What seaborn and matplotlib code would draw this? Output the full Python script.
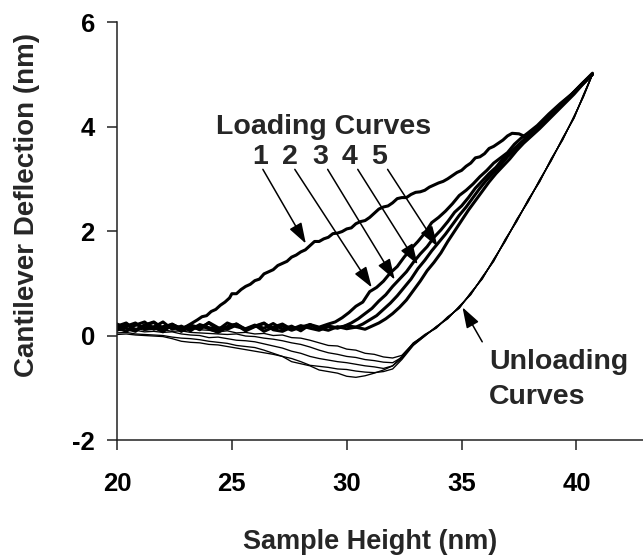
import matplotlib
matplotlib.use("Agg")
import matplotlib.pyplot as plt
import seaborn as sns

# ---------------- data: cantilever deflection (nm) vs sample height (nm) ----------------
# Loading curves (approach), five successive cycles
load1_x = [20.0, 20.4, 20.8, 21.2, 21.6, 22.0, 22.4, 22.8, 23.2,
           23.5, 23.7, 23.9, 24.1, 24.3, 24.5, 24.7, 24.9, 25.0,
           25.2, 25.4, 25.6, 25.8, 26.0, 26.2, 26.4, 26.6, 26.8, 27.0,
           27.2, 27.4, 27.6, 27.8, 28.0, 28.2, 28.4, 28.6, 28.8, 29.0,
           29.2, 29.4, 29.6, 29.8, 30.0, 30.2, 30.4, 30.6, 30.8, 31.0,
           31.2, 31.4, 31.6, 31.8, 32.0, 32.2, 32.4, 32.6, 32.8, 33.0,
           33.2, 33.4, 33.6, 33.8, 34.0, 34.2, 34.4, 34.6, 34.8, 35.0,
           35.2, 35.4, 35.6, 35.8, 36.0, 36.2, 36.4, 36.6, 36.8, 37.0, 37.2,
           37.5, 37.7, 37.8, 38.0, 38.2, 38.6, 39.0, 39.4, 39.8, 40.2, 40.7]
load1_y = [0.18, 0.24, 0.10, 0.20, 0.26, 0.14, 0.22, 0.12, 0.22,
           0.30, 0.36, 0.38, 0.46, 0.50, 0.58, 0.64, 0.72, 0.80,
           0.80, 0.88, 0.94, 0.98, 1.05, 1.08, 1.18, 1.22, 1.26, 1.34,
           1.38, 1.42, 1.50, 1.54, 1.60, 1.64, 1.72, 1.80, 1.80, 1.85,
           1.88, 1.95, 1.96, 1.99, 2.04, 2.06, 2.14, 2.18, 2.20, 2.26,
           2.34, 2.42, 2.46, 2.48, 2.54, 2.62, 2.64, 2.64, 2.70, 2.74,
           2.75, 2.78, 2.84, 2.88, 2.92, 2.95, 3.00, 3.06, 3.12, 3.16,
           3.24, 3.30, 3.40, 3.42, 3.48, 3.58, 3.62, 3.68, 3.74, 3.82, 3.87,
           3.86, 3.82, 3.76, 3.88, 3.96, 4.12, 4.30, 4.46, 4.62, 4.80, 5.02]

load2_x = [20.0, 20.4, 20.8, 21.2, 21.6, 22.0, 22.4, 22.8, 23.2, 23.6, 24.0, 24.4,
           24.8, 25.2, 25.6, 26.0, 26.4, 26.8, 27.2, 27.6, 28.0, 28.4, 28.8, 29.2,
           29.5, 29.8, 30.1, 30.4, 30.7, 31.0, 31.3, 31.6, 31.9, 32.2, 32.5, 32.8,
           33.1, 33.4, 33.7, 34.0, 34.3, 34.6, 34.9, 35.2, 35.5, 35.8, 36.1, 36.4,
           36.7, 37.0, 37.3, 37.6, 37.9, 38.3, 38.8, 39.3, 39.8, 40.3, 40.7]
load2_y = [0.12, 0.22, 0.10, 0.19, 0.25, 0.12, 0.18, 0.08, 0.20, 0.15, 0.24, 0.11,
           0.17, 0.22, 0.10, 0.19, 0.14, 0.23, 0.12, 0.18, 0.09, 0.21, 0.16, 0.22,
           0.26, 0.34, 0.44, 0.56, 0.64, 0.84, 0.92, 1.04, 1.20, 1.32, 1.50, 1.66,
           1.80, 1.96, 2.16, 2.26, 2.38, 2.52, 2.68, 2.78, 2.90, 3.04, 3.16, 3.30,
           3.40, 3.50, 3.66, 3.78, 3.88, 4.02, 4.24, 4.44, 4.62, 4.84, 5.00]

load3_x = [20.0, 20.4, 20.8, 21.2, 21.6, 22.0, 22.4, 22.8, 23.2, 23.6, 24.0, 24.4,
           24.8, 25.2, 25.6, 26.0, 26.4, 26.8, 27.2, 27.6, 28.0, 28.4, 28.8, 29.2, 29.6,
           29.9, 30.2, 30.5, 30.8, 31.1, 31.4, 31.7, 32.0, 32.3, 32.6, 32.9, 33.2,
           33.5, 33.8, 34.1, 34.4, 34.7, 35.0, 35.3, 35.6, 35.9, 36.2, 36.5, 36.8,
           37.1, 37.4, 37.7, 38.0, 38.4, 38.9, 39.4, 39.9, 40.3, 40.7]
load3_y = [0.22, 0.14, 0.08, 0.20, 0.16, 0.26, 0.12, 0.18, 0.09, 0.21, 0.15, 0.11,
           0.24, 0.17, 0.13, 0.20, 0.08, 0.16, 0.22, 0.12, 0.19, 0.14, 0.10, 0.18, 0.15,
           0.18, 0.24, 0.32, 0.42, 0.52, 0.66, 0.78, 0.94, 1.08, 1.22, 1.40, 1.56,
           1.70, 1.88, 2.02, 2.18, 2.36, 2.48, 2.64, 2.82, 2.96, 3.10, 3.22, 3.38,
           3.50, 3.62, 3.74, 3.86, 4.00, 4.22, 4.44, 4.66, 4.84, 5.00]

load4_x = [20.0, 20.4, 20.8, 21.2, 21.6, 22.0, 22.4, 22.8, 23.2, 23.6, 24.0, 24.4,
           24.8, 25.2, 25.6, 26.0, 26.4, 26.8, 27.2, 27.6, 28.0, 28.4, 28.8, 29.2,
           29.6, 30.0,
           30.4, 30.7, 31.0, 31.3, 31.6, 31.9, 32.2, 32.5, 32.8, 33.1, 33.4, 33.7,
           34.0, 34.3, 34.6, 34.9, 35.2, 35.5, 35.8, 36.1, 36.4, 36.7, 37.0, 37.3,
           37.6, 37.9, 38.3, 38.8, 39.3, 39.8, 40.3, 40.7]
load4_y = [0.10, 0.18, 0.24, 0.12, 0.16, 0.07, 0.21, 0.14, 0.19, 0.11, 0.25, 0.15,
           0.12, 0.20, 0.09, 0.17, 0.23, 0.13, 0.18, 0.10, 0.16, 0.21, 0.12, 0.17,
           0.14, 0.19,
           0.16, 0.22, 0.30, 0.38, 0.50, 0.62, 0.76, 0.92, 1.08, 1.28, 1.44, 1.62,
           1.78, 1.94, 2.12, 2.30, 2.46, 2.64, 2.82, 2.98, 3.12, 3.26, 3.42, 3.54,
           3.66, 3.78, 3.94, 4.16, 4.40, 4.62, 4.82, 5.00]

load5_x = [20.0, 20.4, 20.8, 21.2, 21.6, 22.0, 22.4, 22.8, 23.2, 23.6, 24.0, 24.4,
           24.8, 25.2, 25.6, 26.0, 26.4, 26.8, 27.2, 27.6, 28.0, 28.4, 28.8, 29.2,
           29.6, 30.0, 30.4, 30.8,
           31.1, 31.4, 31.7, 32.0, 32.3, 32.6, 32.9, 33.2, 33.5, 33.8, 34.1, 34.4,
           34.7, 35.0, 35.3, 35.6, 35.9, 36.2, 36.5, 36.8, 37.1, 37.4, 37.7, 38.0,
           38.4, 38.9, 39.4, 39.9, 40.3, 40.7]
load5_y = [0.16, 0.08, 0.20, 0.26, 0.12, 0.17, 0.21, 0.09, 0.15, 0.19, 0.13, 0.06,
           0.16, 0.22, 0.12, 0.18, 0.24, 0.11, 0.08, 0.16, 0.12, 0.20, 0.14, 0.10,
           0.17, 0.13, 0.16, 0.12,
           0.18, 0.24, 0.32, 0.42, 0.54, 0.68, 0.86, 1.04, 1.24, 1.40, 1.58, 1.80,
           2.00, 2.20, 2.40, 2.58, 2.76, 2.94, 3.10, 3.24, 3.38, 3.54, 3.68, 3.80,
           3.96, 4.18, 4.40, 4.62, 4.82, 5.00]

# Unloading curves (retraction), five cycles sampled at common heights
unload_x = [20.0, 20.4, 20.8, 21.2, 21.6, 22.0, 22.4, 22.8, 23.2, 23.6,
            24.0, 24.4, 24.8, 25.2, 25.6, 26.0, 26.4, 26.8, 27.2, 27.6,
            28.0, 28.4, 28.8, 29.2, 29.6, 30.0, 30.4, 30.8, 31.2, 31.6,
            32.0, 32.4, 32.9, 33.4, 33.9, 34.4, 34.9, 35.4, 35.9, 36.4,
            36.9, 37.4, 37.9, 38.4, 38.9, 39.4, 39.9, 40.3, 40.7]
unload1_y = [0.20, 0.17, 0.19, 0.15, 0.18, 0.16, 0.17, 0.13, 0.14, 0.11,
             0.10, 0.07, 0.09, 0.05, 0.06, 0.03, 0.04, 0.00, 0.01, -0.04,
             -0.05, -0.09, -0.14, -0.19, -0.20, -0.26, -0.28, -0.34, -0.36, -0.41,
             -0.43, -0.38, -0.15, 0.02, 0.15, 0.36, 0.52, 0.82, 1.08, 1.46,
             1.80, 2.22, 2.56, 2.98, 3.34, 3.78, 4.16, 4.60, 5.00]
unload2_y = [0.15, 0.13, 0.14, 0.10, 0.12, 0.11, 0.08, 0.09, 0.06, 0.05,
             0.04, 0.03, 0.02, 0.03, -0.01, -0.02, -0.05, -0.07, -0.10, -0.14,
             -0.17, -0.22, -0.28, -0.33, -0.36, -0.40, -0.42, -0.46, -0.48, -0.51,
             -0.52, -0.42, -0.18, -0.01, 0.17, 0.32, 0.56, 0.78, 1.12, 1.42,
             1.84, 2.18, 2.60, 2.94, 3.38, 3.74, 4.20, 4.56, 5.00]
unload3_y = [0.10, 0.09, 0.10, 0.07, 0.08, 0.06, 0.07, 0.03, 0.01, 0.00,
             -0.04, -0.03, -0.06, -0.09, -0.10, -0.12, -0.16, -0.20, -0.24, -0.30,
             -0.34, -0.40, -0.44, -0.47, -0.50, -0.52, -0.55, -0.58, -0.60, -0.63,
             -0.58, -0.44, -0.16, 0.01, 0.14, 0.35, 0.53, 0.81, 1.09, 1.45,
             1.81, 2.21, 2.57, 2.97, 3.35, 3.77, 4.17, 4.59, 5.00]
unload4_y = [0.02, 0.03, 0.01, 0.00, -0.01, -0.02, -0.06, -0.11, -0.13, -0.14,
             -0.17, -0.18, -0.21, -0.24, -0.27, -0.30, -0.33, -0.36, -0.40, -0.44,
             -0.50, -0.57, -0.59, -0.61, -0.64, -0.65, -0.68, -0.70, -0.71, -0.69,
             -0.64, -0.46, -0.19, -0.01, 0.17, 0.33, 0.55, 0.79, 1.11, 1.43,
             1.83, 2.19, 2.59, 2.95, 3.37, 3.75, 4.19, 4.57, 5.00]
unload5_y = [0.05, 0.06, 0.03, 0.02, 0.01, 0.00, -0.03, -0.05, -0.06, -0.08,
             -0.11, -0.13, -0.15, -0.19, -0.21, -0.23, -0.28, -0.34, -0.40, -0.50,
             -0.54, -0.58, -0.66, -0.69, -0.72, -0.78, -0.80, -0.77, -0.72, -0.66,
             -0.58, -0.40, -0.14, 0.00, 0.16, 0.34, 0.54, 0.80, 1.10, 1.44,
             1.82, 2.20, 2.58, 2.96, 3.36, 3.76, 4.18, 4.58, 5.00]

loading_x = [load1_x, load2_x, load3_x, load4_x, load5_x]
loading_y = [load1_y, load2_y, load3_y, load4_y, load5_y]
unloading_y = [unload1_y, unload2_y, unload3_y, unload4_y, unload5_y]

curve_labels = ["1", "2", "3", "4", "5"]
x_ticks = [20, 25, 30, 35, 40]
y_ticks = [-2, 0, 2, 4, 6]

# ---------------- styling ----------------
sns.set_theme(style="ticks")
plt.rcParams["font.family"] = ["Liberation Sans", "DejaVu Sans"]
plt.rcParams["font.weight"] = "bold"

fig = plt.figure(figsize=(6.43, 5.57), dpi=100)
ax = fig.add_axes([0.182, 0.21, 0.818, 0.7505])

for ys in unloading_y:
    sns.lineplot(x=unload_x, y=ys, ax=ax, color="black", lw=0.95, sort=False, estimator=None)
for xs, ys in zip(loading_x, loading_y):
    sns.lineplot(x=xs, y=ys, ax=ax, color="black", lw=2.2, sort=False, estimator=None)

ax.set_xlim(20, 42.9)
ax.set_ylim(-2, 6)
ax.set_xticks(x_ticks)
ax.set_yticks(y_ticks)
ax.set_xticklabels([str(t) for t in x_ticks])
ax.set_yticklabels([str(t) for t in y_ticks])

for side in ("top", "right"):
    ax.spines[side].set_visible(False)
for side in ("left", "bottom"):
    ax.spines[side].set_linewidth(1.1)
    ax.spines[side].set_color("#222222")

ax.tick_params(axis="both", direction="out", length=7, width=1.1, color="#222222",
               labelsize=18.5, labelcolor="black")
ax.tick_params(axis="x", pad=16)
ax.tick_params(axis="y", pad=9)
for lab in ax.get_xticklabels() + ax.get_yticklabels():
    lab.set_fontweight("bold")

ax.set_xlabel("Sample Height (nm)", fontsize=19.5, fontweight="bold", va="center")
ax.xaxis.set_label_coords(0.481, -0.244)
ax.set_ylabel("Cantilever Deflection (nm)", fontsize=20, fontweight="bold", va="center")
ax.yaxis.set_label_coords(-0.171, 0.562)

# ---------------- annotations ----------------
ax.text(29.0, 4.0, "Loading Curves", ha="center", va="center", fontsize=20.5, fontweight="bold")

label_x = [26.22, 27.52, 28.83, 30.13, 31.43]
arrow_start = [(26.35, 3.18), (27.74, 3.18), (29.17, 3.18), (30.48, 3.18), (31.78, 3.18)]
arrow_tip = [(28.22, 1.76), (31.09, 0.92), (32.09, 1.07), (33.09, 1.36), (33.96, 1.70)]
arrow_props = dict(arrowstyle="-|>,head_length=0.9,head_width=0.3", color="black", lw=1.1,
                   mutation_scale=14, shrinkA=0, shrinkB=0)
for lab, lx, start, tip in zip(curve_labels, label_x, arrow_start, arrow_tip):
    ax.text(lx, 3.41, lab, ha="center", va="center", fontsize=20.5, fontweight="bold")
    ax.annotate("", xy=tip, xytext=start, arrowprops=arrow_props)

ax.annotate("", xy=(35.04, 0.54), xytext=(35.9, -0.12), arrowprops=arrow_props)
ax.text(36.2, -0.50, "Unloading", ha="left", va="center", fontsize=20.5, fontweight="bold")
ax.text(36.2, -1.17, "Curves", ha="left", va="center", fontsize=20.5, fontweight="bold")

fig.savefig("out.png", dpi=100)
